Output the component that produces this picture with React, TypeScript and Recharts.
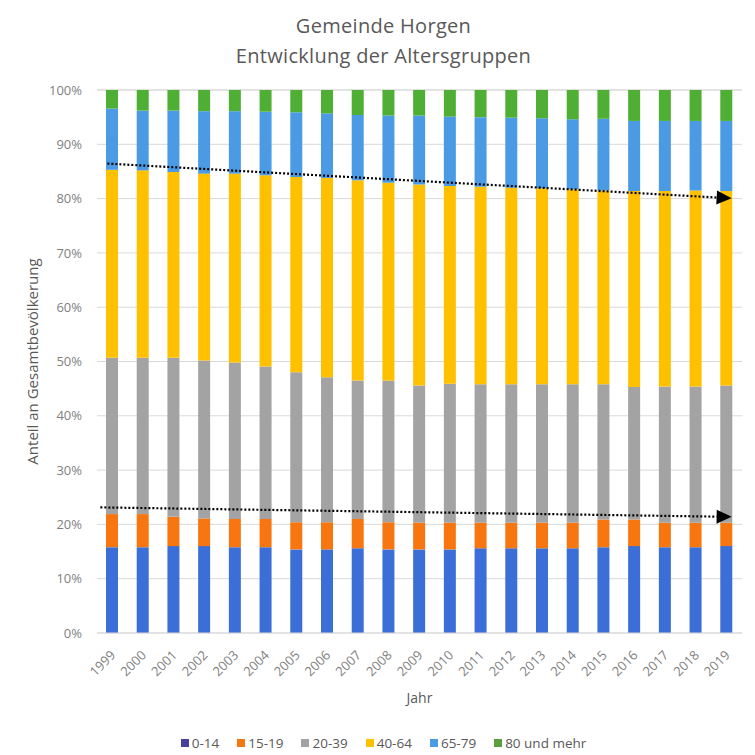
import React from 'react';
import { BarChart, Bar, XAxis, YAxis, CartesianGrid, ReferenceLine } from 'recharts';

// Years and the share (in %) of each age group of the total population
const years = [
  '1999', '2000', '2001', '2002', '2003', '2004', '2005', '2006', '2007', '2008', '2009',
  '2010', '2011', '2012', '2013', '2014', '2015', '2016', '2017', '2018', '2019',
];
const age0to14 = [15.8, 15.8, 16.0, 16.0, 15.8, 15.8, 15.4, 15.4, 15.6, 15.4, 15.4, 15.4, 15.6, 15.6, 15.6, 15.6, 15.8, 16.0, 15.8, 15.8, 16.0];
const age15to19 = [6.1, 6.1, 5.4, 5.1, 5.2, 5.2, 5.0, 5.0, 5.4, 5.0, 4.9, 4.9, 4.7, 4.7, 4.7, 4.7, 5.1, 4.9, 4.5, 4.5, 4.3];
const age20to39 = [28.8, 28.8, 29.3, 29.1, 28.8, 28.1, 27.6, 26.7, 25.5, 26.1, 25.3, 25.6, 25.5, 25.5, 25.5, 25.5, 24.9, 24.4, 25.1, 25.1, 25.3];
const age40to64 = [34.6, 34.5, 34.2, 34.4, 34.8, 35.2, 36.0, 36.7, 36.9, 36.4, 37.0, 36.4, 36.4, 36.2, 36.1, 35.9, 35.7, 36.1, 36.0, 36.1, 35.8];
const age65to79 = [11.3, 11.0, 11.3, 11.5, 11.5, 11.7, 11.9, 11.9, 12.0, 12.4, 12.7, 12.8, 12.8, 12.9, 12.9, 12.9, 13.2, 12.9, 12.9, 12.8, 12.9];
const age80plus = [3.4, 3.8, 3.8, 3.9, 3.9, 4.0, 4.1, 4.3, 4.6, 4.7, 4.7, 4.9, 5.0, 5.1, 5.2, 5.4, 5.3, 5.7, 5.7, 5.7, 5.7];

const seriesNames = ['0-14', '15-19', '20-39', '40-64', '65-79', '80 und mehr'];
const seriesValues = [age0to14, age15to19, age20to39, age40to64, age65to79, age80plus];
const seriesColors = ['#3b6ed6', '#f7760f', '#a3a3a3', '#ffc000', '#4a9be3', '#4fae34'];
const legendColors = ['#463f9c', '#f7760f', '#a3a3a3', '#ffc000', '#4a9be3', '#5a9f3e'];

const yTicks = [0, 10, 20, 30, 40, 50, 60, 70, 80, 90, 100];

// Dotted trend arrows: start value (first year) and end value (last year), in %
const trendStart = [86.4, 23.1];
const trendEnd = [80.1, 21.4];
// How far each arrow's tail reaches left of the first bar's centre
const trendTail = [5, 12];

const data = years.map((year, i) => {
  const row: Record<string, string | number> = { year };
  seriesNames.forEach((name, s) => {
    row[name] = seriesValues[s][i];
  });
  return row;
});

const FONT = '"Open Sans", "Liberation Sans", sans-serif';

const YearTick = (props: any) => {
  const { x, y, payload } = props;
  const tx = x + 4;
  const ty = y + 15;
  return (
    <text
      x={tx}
      y={ty}
      transform={`rotate(-45 ${tx} ${ty})`}
      textAnchor="end"
      fill="#7f7f7f"
      fontSize={13}
      fontFamily={FONT}
    >
      {payload.value}
    </text>
  );
};

const makeTrendArrow = (tail: number) => (props: any) => {
  const { x1, y1, x2, y2 } = props;
  const dx = x2 - x1;
  const dy = y2 - y1;
  const len = Math.sqrt(dx * dx + dy * dy) || 1;
  const ux = dx / len;
  const uy = dy / len;
  const sx = x1 - tail * ux;
  const sy = y1 - tail * uy;
  const tipX = x2 + 5 * ux;
  const tipY = y2 + 5 * uy;
  const baseX = tipX - 15 * ux;
  const baseY = tipY - 15 * uy;
  const px = -uy * 7;
  const py = ux * 7;
  return (
    <g>
      <line
        x1={sx}
        y1={sy}
        x2={baseX}
        y2={baseY}
        stroke="#000"
        strokeWidth={2.2}
        strokeDasharray="2 2"
      />
      <polygon
        points={`${tipX},${tipY} ${baseX + px},${baseY + py} ${baseX - px},${baseY - py}`}
        fill="#000"
      />
    </g>
  );
};

export default function App() {
  return (
    <div
      style={{
        position: 'absolute',
        left: 0,
        top: 0,
        width: 755,
        height: 755,
        background: '#ffffff',
        fontFamily: FONT,
      }}
    >
      <div
        style={{
          position: 'absolute',
          left: 6,
          top: 11,
          width: 755,
          textAlign: 'center',
          color: '#595959',
          fontSize: 20,
          lineHeight: '30px',
          letterSpacing: 0.3,
        }}
      >
        <div>Gemeinde Horgen</div>
        <div>Entwicklung der Altersgruppen</div>
      </div>

      <BarChart
        width={755}
        height={755}
        data={data}
        margin={{ top: 90, right: 13, bottom: 0, left: 0 }}
        barSize={12}
      >
        <CartesianGrid vertical={false} stroke="#d9d9d9" />
        <XAxis
          dataKey="year"
          interval={0}
          height={122}
          tickLine={false}
          axisLine={{ stroke: '#d9d9d9' }}
          tick={<YearTick />}
          label={{
            value: 'Jahr',
            position: 'insideBottom',
            offset: 52,
            fill: '#595959',
            fontSize: 14,
            fontFamily: FONT,
          }}
        />
        <YAxis
          width={97}
          domain={[0, 100]}
          ticks={yTicks}
          tickFormatter={(v: number) => `${v}%`}
          axisLine={false}
          tickLine={false}
          tickMargin={9}
          tick={{ fill: '#7f7f7f', fontSize: 13, fontFamily: FONT }}
          label={{
            value: 'Anteil an Gesamtbevölkerung',
            angle: -90,
            position: 'insideLeft',
            offset: 33,
            fill: '#595959',
            fontSize: 15,
            fontFamily: FONT,
            style: { textAnchor: 'middle' },
          }}
        />
        {seriesNames.map((name, s) => (
          <Bar
            key={name}
            dataKey={name}
            stackId="alter"
            fill={seriesColors[s]}
            isAnimationActive={false}
          />
        ))}
        {trendStart.map((start, i) => {
          const Arrow = makeTrendArrow(trendTail[i]);
          return (
            <ReferenceLine
              key={`trend-${i}`}
              segment={[
                { x: years[0], y: start },
                { x: years[years.length - 1], y: trendEnd[i] },
              ]}
              ifOverflow="visible"
              shape={<Arrow />}
            />
          );
        })}
      </BarChart>

      <div
        style={{
          position: 'absolute',
          left: 6,
          top: 733,
          width: 755,
          display: 'flex',
          justifyContent: 'center',
          gap: 18,
          color: '#595959',
          fontSize: 13.5,
          lineHeight: '20px',
        }}
      >
        {seriesNames.map((name, s) => (
          <div key={name} style={{ display: 'flex', alignItems: 'center', gap: 3 }}>
            <span
              style={{
                display: 'inline-block',
                width: 8,
                height: 8,
                background: legendColors[s],
              }}
            />
            <span>{name}</span>
          </div>
        ))}
      </div>
    </div>
  );
}
